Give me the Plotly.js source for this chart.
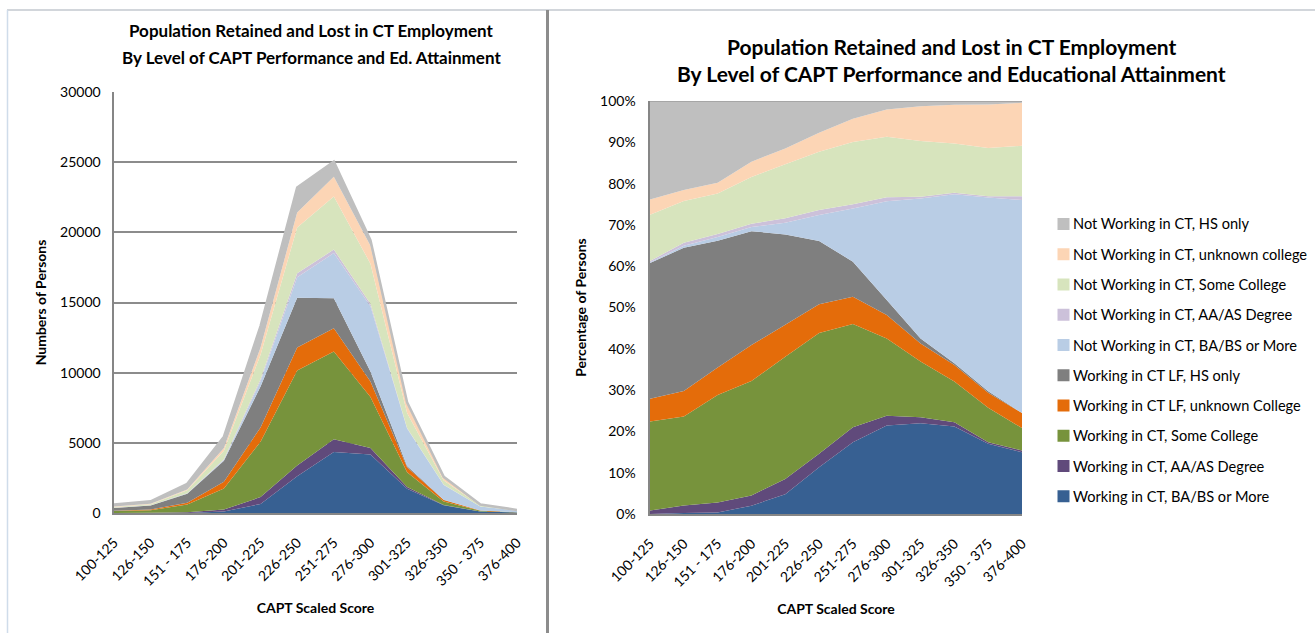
<!DOCTYPE html>
<html>
<head>
<meta charset="utf-8">
<script src="https://cdn.plot.ly/plotly-3.0.1.min.js"></script>
<style>
  html, body { margin: 0; padding: 0; background: #ffffff; }
  #chart { width: 1315px; height: 633px; }
</style>
</head>
<body>
<div id="chart"></div>
<script>
// CAPT scaled-score bands
const scoreBands = ["100-125", "126-150", "151 - 175", "176-200", "201-225", "226-250",
                    "251-275", "276-300", "301-325", "326-350", "350 - 375", "376-400"];

// Persons in each score band, by employment status and educational attainment
const workingBA   = [0, 2, 8, 109, 639, 2622, 4355, 4162, 1734, 547, 102, 33];
const workingAA   = [5, 15, 50, 136, 493, 766, 901, 467, 110, 26, 2, 1];
const workingSC   = [129, 179, 541, 1507, 3943, 6774, 6258, 3637, 1064, 255, 50, 12];
const workingUC   = [33, 51, 139, 473, 1026, 1624, 1652, 1109, 347, 103, 22, 8];
const workingHS   = [197, 288, 639, 1501, 2917, 3550, 2128, 700, 95, 10, 2, 0];
const notWorkBA   = [1, 4, 19, 54, 373, 1462, 3229, 4650, 2671, 1055, 281, 114];
const notWorkAA   = [2, 6, 15, 44, 147, 278, 250, 190, 32, 10, 2, 2];
const notWorkSC   = [67, 84, 204, 615, 1745, 3271, 3780, 2850, 1064, 307, 70, 27];
const notWorkUC   = [22, 22, 54, 201, 506, 1067, 1402, 1280, 662, 243, 63, 23];
const notWorkHS   = [143, 179, 412, 800, 1532, 1786, 1076, 405, 102, 23, 5, 1];

// Series names, stacking order bottom to top
const seriesNames = [
  "Working in CT, BA/BS or More",
  "Working in CT, AA/AS Degree",
  "Working in CT, Some College",
  "Working in CT LF, unknown College",
  "Working in CT LF, HS only",
  "Not Working in CT, BA/BS or More",
  "Not Working in CT, AA/AS Degree",
  "Not Working in CT, Some College",
  "Not Working in CT, unknown college",
  "Not Working in CT, HS only"
];
const seriesValues = [workingBA, workingAA, workingSC, workingUC, workingHS,
                      notWorkBA, notWorkAA, notWorkSC, notWorkUC, notWorkHS];
const seriesColors = ["#376092", "#604A7B", "#77933C", "#E46C0A", "#7F7F7F",
                      "#B9CDE5", "#CCC1DA", "#D7E4BD", "#FCD5B5", "#BFBFBF"];

const W = 1315, H = 633;
const FONT = "Lato, 'Open Sans', sans-serif";
const px = v => v / W;
const py = v => 1 - v / H;

const traces = [];
seriesValues.forEach((vals, i) => {
  const isTop = i === seriesValues.length - 1;
  traces.push({
    type: "scatter", x: scoreBands, y: vals, name: seriesNames[i],
    xaxis: "x", yaxis: "y", stackgroup: "counts",
    mode: isTop ? "lines" : "none",
    line: isTop ? { color: "#BFBFBF", width: 2.5 } : { width: 0 },
    fillcolor: seriesColors[i], showlegend: false
  });
});
seriesValues.forEach((vals, i) => {
  const t = {
    type: "scatter", x: scoreBands, y: vals, name: seriesNames[i],
    xaxis: "x2", yaxis: "y2", stackgroup: "shares",
    mode: "none", fillcolor: seriesColors[i], showlegend: false
  };
  if (i === 0) t.groupnorm = "percent";
  traces.push(t);
});

const tickFont = { family: FONT, size: 14, color: "#000000" };
const axisTitleFont = { family: FONT, size: 14, color: "#000000", weight: "bold" };

const annotations = [];
const shapes = [];

function titleLine(text, x, y, size) {
  annotations.push({
    xref: "paper", yref: "paper", x: px(x), y: py(y), xanchor: "center", yanchor: "middle",
    showarrow: false, text: "<b>" + text + "</b>",
    font: { family: FONT, size: size, color: "#000000" }
  });
}
titleLine("Population Retained and Lost in CT Employment", 311, 31, 17);
titleLine("By Level of CAPT Performance and Ed. Attainment", 311, 57, 17);
titleLine("Population Retained and Lost in CT Employment", 952, 46, 21);
titleLine("By Level of CAPT Performance and Educational Attainment", 952, 74, 21);

// Legend, listed top series first
for (let k = 0; k < seriesNames.length; k++) {
  const i = seriesNames.length - 1 - k;
  const cy = 224 + k * 30.25;
  shapes.push({
    type: "rect", xref: "paper", yref: "paper",
    x0: px(1057.5), x1: px(1069.5), y0: py(cy + 6), y1: py(cy - 6),
    fillcolor: seriesColors[i], line: { width: 0 }
  });
  annotations.push({
    xref: "paper", yref: "paper", x: px(1071), y: py(cy), xanchor: "left", yanchor: "middle",
    showarrow: false, text: seriesNames[i],
    font: { family: FONT, size: 14.6, color: "#000000" }
  });
}

// Frame lines around the two panels
shapes.push({ type: "line", xref: "paper", yref: "paper", x0: px(7), x1: px(1315), y0: py(10), y1: py(10),
              line: { color: "#C3C9CF", width: 1.5 } });
shapes.push({ type: "line", xref: "paper", yref: "paper", x0: px(7.5), x1: px(7.5), y0: py(10), y1: py(633),
              line: { color: "#CFDCEA", width: 1.5 } });
shapes.push({ type: "line", xref: "paper", yref: "paper", x0: px(547.5), x1: px(547.5), y0: py(10), y1: py(633),
              line: { color: "#8C8C8C", width: 3 } });
// Top edge of the 100% panel
shapes.push({ type: "line", xref: "x2 domain", yref: "y2", x0: 0, x1: 1, y0: 100, y1: 100,
              line: { color: "#A6A6A6", width: 2 }, layer: "above" });

const layout = {
  width: W, height: H,
  margin: { l: 0, r: 0, t: 0, b: 0 },
  paper_bgcolor: "#ffffff", plot_bgcolor: "#ffffff",
  showlegend: false,
  hovermode: false,
  xaxis: {
    domain: [px(114), px(517)], anchor: "y", type: "category", range: [0, 11],
    tickangle: -45, tickfont: tickFont, ticks: "", ticklabelstandoff: 14,
    showgrid: false, showline: true, linecolor: "#868686", linewidth: 2, zeroline: false,
    title: { text: "CAPT Scaled Score", font: axisTitleFont, standoff: 15 }
  },
  yaxis: {
    domain: [py(513), py(92)], anchor: "x", range: [0, 30000], dtick: 5000,
    tickfont: tickFont, ticks: "", ticklabelstandoff: 8, tickformat: "d",
    showgrid: true, gridcolor: "#8C8C8C", gridwidth: 2,
    showline: true, linecolor: "#868686", linewidth: 2.5, zeroline: false,
    title: { text: "Numbers of Persons", font: axisTitleFont, standoff: 10 }
  },
  xaxis2: {
    domain: [px(650), px(1022)], anchor: "y2", type: "category", range: [0, 11],
    tickangle: -45, tickfont: tickFont, ticks: "", ticklabelstandoff: 14,
    showgrid: false, showline: true, linecolor: "#868686", linewidth: 2, zeroline: false,
    title: { text: "CAPT Scaled Score", font: axisTitleFont, standoff: 15 }
  },
  yaxis2: {
    domain: [py(514), py(101)], anchor: "x2", range: [0, 100], dtick: 10, ticksuffix: "%",
    tickfont: tickFont, ticks: "", ticklabelstandoff: 9,
    showgrid: false, showline: true, linecolor: "#868686", linewidth: 2.5, zeroline: false,
    title: { text: "Percentage of Persons", font: axisTitleFont, standoff: 10 }
  },
  annotations: annotations,
  shapes: shapes
};

Plotly.newPlot("chart", traces, layout, { staticPlot: true, displayModeBar: false });
</script>
</body>
</html>
